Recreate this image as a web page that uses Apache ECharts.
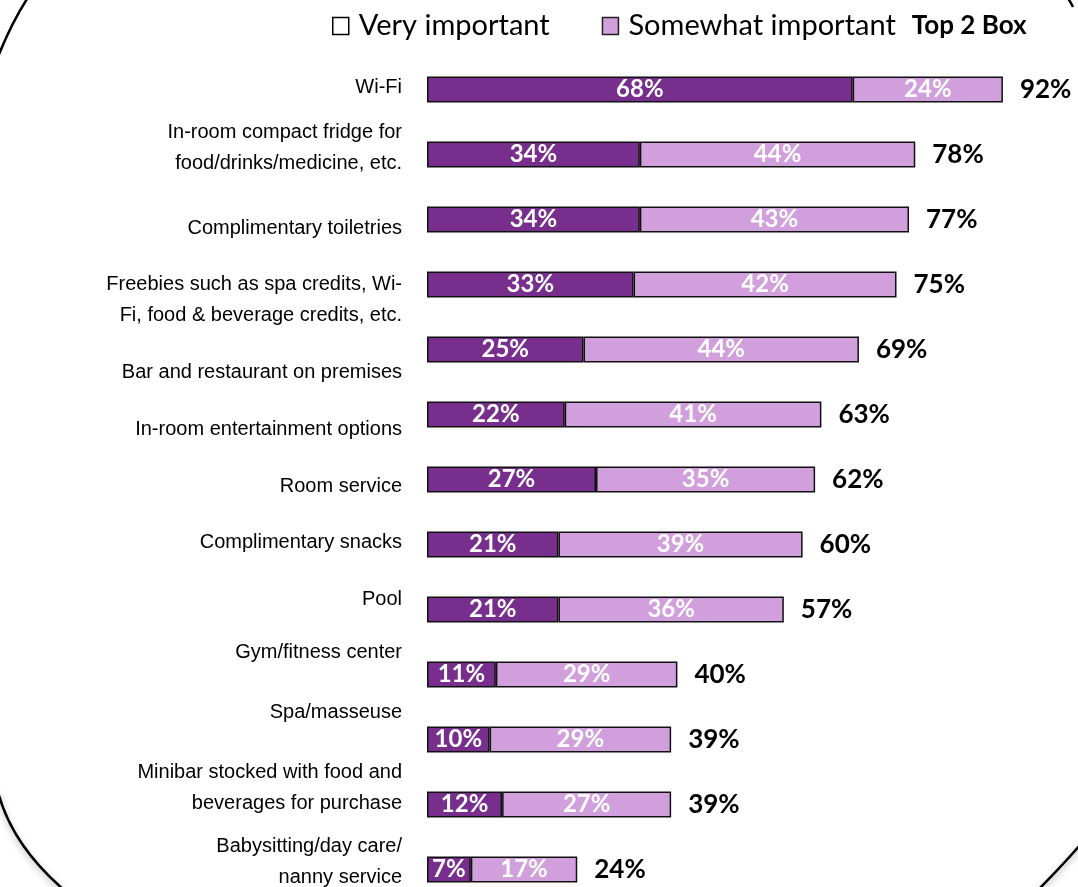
<!DOCTYPE html>
<html>
<head>
<meta charset="utf-8">
<script src="https://cdn.jsdelivr.net/npm/echarts@6/dist/echarts.min.js"></script>
<style>
  html, body { margin: 0; padding: 0; background: #fff; }
  #chart { width: 1078px; height: 887px; }
</style>
</head>
<body>
<div id="chart"></div>
<script>
const categories = [
  'Wi-Fi',
  'In-room compact fridge for\nfood/drinks/medicine, etc.',
  'Complimentary toiletries',
  'Freebies such as spa credits, Wi-\nFi, food & beverage credits, etc.',
  'Bar and restaurant on premises',
  'In-room entertainment options',
  'Room service',
  'Complimentary snacks',
  'Pool',
  'Gym/fitness center',
  'Spa/masseuse',
  'Minibar stocked with food and\nbeverages for purchase',
  'Babysitting/day care/\nnanny service'
];
const veryImportant = [68, 34, 34, 33, 25, 22, 27, 21, 21, 11, 10, 12, 7];
const somewhatImportant = [24, 44, 43, 42, 44, 41, 35, 39, 36, 29, 29, 27, 17];
const top2Box = [92, 78, 77, 75, 69, 63, 62, 60, 57, 40, 39, 39, 24];

// vertical nudge of each category label (px, + = down), as in the original slide
const labelShift = [-2, -7, 9, 15, 23, 15, 7, -2, -10, -22, -27, -17, -8];

const DARK = '#772E8C';
const LIGHT = '#D29FDD';

const myChart = echarts.init(document.getElementById('chart'));

// category names drawn as labels of an invisible scatter, so each can be nudged
const nameData = categories.map((c, i) => ({
  value: [0, c],
  label: { offset: [0, labelShift[i]] }
}));

const option = {
  animation: false,
  grid: { left: 427, right: 25, top: 57, height: 845, outerBoundsMode: 'none', containLabel: false },
  legend: {
    left: 327,
    top: 6,
    icon: 'rect',
    itemWidth: 16,
    itemHeight: 17,
    itemGap: 52,
    selectedMode: false,
    textStyle: {
      fontFamily: 'Lato',
      fontSize: 29,
      color: '#000',
      lineHeight: 30,
      padding: [0, 0, 0, 5],
      rich: {
        n: { fontFamily: 'Lato', fontSize: 29, color: '#000' },
        b: { fontFamily: 'Lato', fontSize: 26, fontWeight: 'bold', color: '#000', padding: [0, 0, 0, 16] }
      }
    },
    formatter: function (name) {
      if (name === 'Somewhat important') return '{n|Somewhat important}{b|Top 2 Box}';
      return name;
    },
    data: [
      { name: 'Very important', itemStyle: { color: '#fff', borderColor: '#000', borderWidth: 1.5 } },
      { name: 'Somewhat important', itemStyle: { color: LIGHT, borderColor: '#222', borderWidth: 1.5 } }
    ]
  },
  xAxis: {
    type: 'value',
    min: 0,
    max: 100,
    show: false
  },
  yAxis: {
    type: 'category',
    inverse: true,
    data: categories,
    axisLine: { show: false },
    axisTick: { show: false },
    splitLine: { show: false },
    axisLabel: { show: false }
  },
  series: [
    {
      name: 'names',
      type: 'scatter',
      data: nameData,
      symbolSize: 0,
      silent: true,
      itemStyle: { opacity: 1 },
      label: {
        show: true,
        position: 'left',
        distance: 25,
        formatter: '{b}',
        align: 'right',
        fontFamily: 'Liberation Sans',
        fontSize: 20,
        lineHeight: 31,
        color: '#000',
        opacity: 1
      }
    },
    {
      name: 'Top 2 Box',
      type: 'bar',
      data: top2Box,
      barWidth: 26,
      barGap: '-100%',
      z: 1,
      itemStyle: { color: 'rgba(0,0,0,0)' },
      label: {
        show: true,
        position: 'right',
        distance: 17,
        formatter: '{c}%',
        fontFamily: 'Lato',
        fontWeight: 'bold',
        fontSize: 26,
        color: '#000'
      }
    },
    {
      name: 'Very important',
      type: 'bar',
      stack: 'imp',
      data: veryImportant,
      barWidth: 26,
      z: 3,
      itemStyle: { color: DARK, borderColor: '#111', borderWidth: 1.5 },
      label: {
        show: true,
        position: 'inside',
        formatter: '{c}%',
        fontFamily: 'Lato',
        fontWeight: 'bold',
        fontSize: 24,
        color: '#fff'
      }
    },
    {
      name: 'Somewhat important',
      type: 'bar',
      stack: 'imp',
      data: somewhatImportant,
      barWidth: 26,
      z: 3,
      itemStyle: { color: LIGHT, borderColor: '#111', borderWidth: 1.5 },
      label: {
        show: true,
        position: 'inside',
        formatter: '{c}%',
        fontFamily: 'Lato',
        fontWeight: 'bold',
        fontSize: 24,
        color: '#fff'
      }
    }
  ],
  graphic: [
    // rounded frame corners of the original slide
    { type: 'bezierCurve', silent: true,
      shape: { x1: 33, y1: -10, cpx1: 12, cpy1: 20, x2: -4, y2: 62 },
      style: { stroke: '#000', lineWidth: 2.5, fill: null } },
    { type: 'bezierCurve', silent: true,
      shape: { x1: -2, y1: 792, cpx1: 12, cpy1: 845, x2: 64, y2: 890 },
      style: { stroke: '#000', lineWidth: 2.5, fill: null, shadowBlur: 6, shadowColor: 'rgba(0,0,0,0.35)', shadowOffsetY: 3 } },
    { type: 'bezierCurve', silent: true,
      shape: { x1: 1081, y1: 844, cpx1: 1062, cpy1: 866, x2: 1038, y2: 890 },
      style: { stroke: '#000', lineWidth: 2.5, fill: null, shadowBlur: 6, shadowColor: 'rgba(0,0,0,0.35)', shadowOffsetY: 3 } },
    { type: 'bezierCurve', silent: true,
      shape: { x1: 1067, y1: -3, cpx1: 1070, cpy1: 1, x2: 1073, y2: 7 },
      style: { stroke: '#000', lineWidth: 2.5, fill: null } }
  ]
};

myChart.setOption(option);
</script>
</body>
</html>
